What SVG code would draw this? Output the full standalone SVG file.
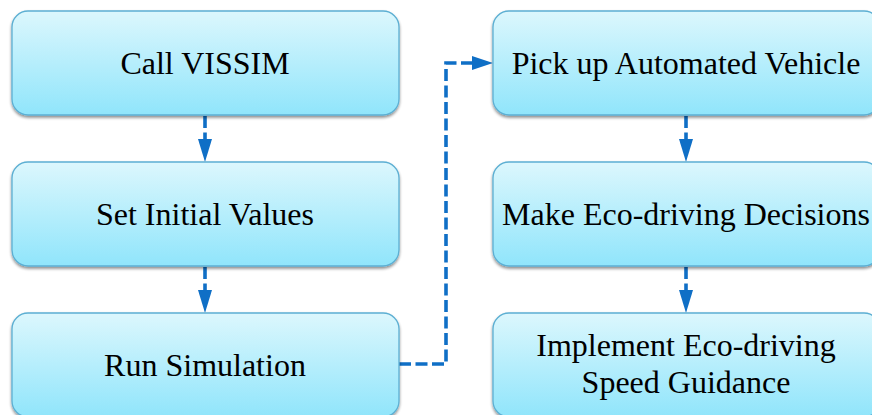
<svg xmlns="http://www.w3.org/2000/svg" width="872" height="415" viewBox="0 0 872 415">
<defs>
<linearGradient id="g" x1="0" y1="0" x2="0" y2="1">
<stop offset="0" stop-color="#dcf7fd"/>
<stop offset="1" stop-color="#90e5fb"/>
</linearGradient>
<filter id="sh" x="-5%" y="-10%" width="110%" height="125%">
<feGaussianBlur in="SourceAlpha" stdDeviation="1.5"/>
<feOffset dx="0" dy="2" result="b"/>
<feComponentTransfer><feFuncA type="linear" slope="0.45"/></feComponentTransfer>
<feMerge><feMergeNode/><feMergeNode in="SourceGraphic"/></feMerge>
</filter>
</defs>
<style>
.box{fill:url(#g);stroke:#5cafd3;stroke-width:1.3;filter:url(#sh)}
.t{font-family:"Liberation Serif","Times New Roman",serif;font-size:32px;fill:#000;text-anchor:middle}
.c{fill:none;stroke:#0f6fc6;stroke-width:3.6;stroke-dasharray:12,4.5}
.a{fill:#0f6fc6}
</style>
<g id="connectors">
<path class="c" d="M205,116 V139" />
<path class="a" d="M198,139 L212,139 L205,162 z"/>
<path class="c" d="M205,267 V290" />
<path class="a" d="M198,290 L212,290 L205,313 z"/>
<path class="c" d="M686,116 V139" />
<path class="a" d="M679,139 L693,139 L686,162 z"/>
<path class="c" d="M686,267 V290" />
<path class="a" d="M679,290 L693,290 L686,313 z"/>
<path class="c" d="M399,364 H446 V63 H473" />
<path class="a" d="M472,56 L472,70 L493,63 z"/>
</g>
<g id="n1"><rect class="box" x="12" y="11" width="387" height="104" rx="16"/><text class="t" x="205" y="74">Call VISSIM</text></g>
<g id="n2"><rect class="box" x="12" y="162" width="387" height="104" rx="16"/><text class="t" x="205" y="225">Set Initial Values</text></g>
<g id="n3"><rect class="box" x="12" y="313" width="387" height="104" rx="16"/><text class="t" x="205" y="376">Run Simulation</text></g>
<g id="n4"><rect class="box" x="493" y="11" width="387" height="104" rx="16"/><text class="t" x="686" y="74">Pick up Automated Vehicle</text></g>
<g id="n5"><rect class="box" x="493" y="162" width="387" height="104" rx="16"/><text class="t" x="686" y="225">Make Eco-driving Decisions</text></g>
<g id="n6"><rect class="box" x="493" y="313" width="387" height="104" rx="16"/><text class="t" x="686" y="356">Implement Eco-driving</text><text class="t" x="686" y="393">Speed Guidance</text></g>
</svg>
